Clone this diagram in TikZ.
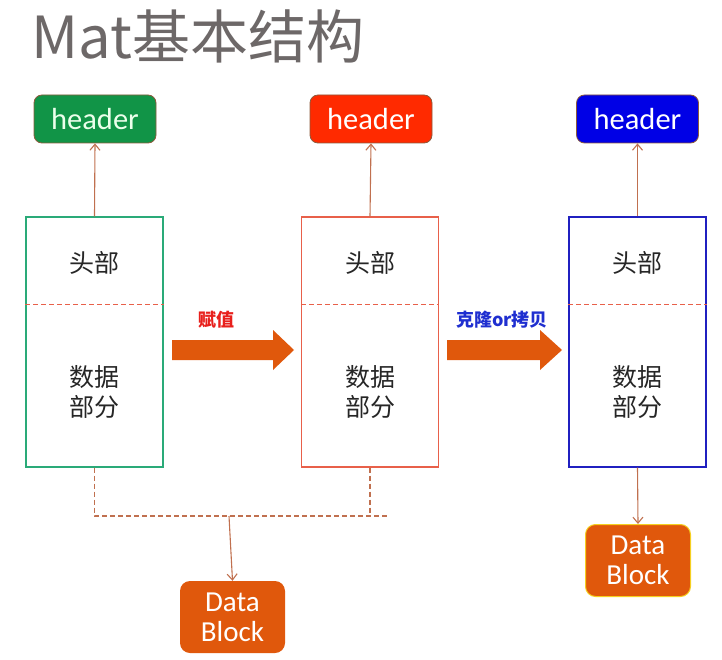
\documentclass[tikz,border=0pt]{standalone}
\usepackage{fontspec}
\setmainfont{Carlito}
\newfontfamily\cjk{Noto Sans CJK SC}
\usetikzlibrary{arrows.meta}
\definecolor{titlegray}{HTML}{6D6868}
\definecolor{hgreen}{HTML}{119447}
\definecolor{hred}{HTML}{FF2A00}
\definecolor{hblue}{HTML}{0000E6}
\definecolor{bgreen}{HTML}{2AAA78}
\definecolor{bred}{HTML}{E8604A}
\definecolor{bblue}{HTML}{2020C0}
\definecolor{conn}{HTML}{C0704F}
\definecolor{orng}{HTML}{E0580C}
\definecolor{lblred}{HTML}{E8201C}
\definecolor{lblblue}{HTML}{1F2FD0}
\definecolor{hborder}{HTML}{8B5A3C}
\definecolor{ylw}{HTML}{F5D020}
\tikzset{
  hdr/.style={rounded corners=8pt, minimum width=122pt, minimum height=48pt, inner sep=0pt,
    draw=hborder, line width=0.8pt, font=\fontsize{30.5}{32}\selectfont},
  matbox/.style={draw, line width=1.1pt, minimum width=137pt, minimum height=250pt, inner sep=0pt},
  cjktext/.style={font=\cjk\fontsize{25}{30}\selectfont, text=black!85, align=center},
  sep/.style={draw=bred, dash pattern=on 5pt off 3pt, line width=1pt},
  conn/.style={draw=conn, line width=1.1pt, -{Straight Barb[length=6pt,width=10pt]}},
  dline/.style={draw=conn, dash pattern=on 5pt off 3pt, line width=1.1pt},
  datablk/.style={rounded corners=10pt, fill=orng, minimum width=105pt, minimum height=72pt,
    inner sep=0pt, text=white, align=center, font=\fontsize{29}{30}\selectfont},
  fat/.style={fill=orng},
  lbl/.style={font=\cjk\bfseries\fontsize{18}{20}\selectfont}
}
\begin{document}
\begin{tikzpicture}[x=1pt,y=-1pt]
\useasboundingbox (0,0) rectangle (722,660);
% title
\node[anchor=base west, inner sep=0pt, text=titlegray, font=\cjk\fontsize{58}{60}\selectfont] (title) at (31,59) {Mat基本结构};
% headers
\node[hdr, fill=hgreen, text=green!8!white] (h1) at (95,119) {header};
\node[hdr, fill=hred, text=white] (h2) at (371,119) {header};
\node[hdr, fill=hblue, text=white] (h3) at (637.5,119) {header};
% mat boxes
\node[matbox, draw=bgreen] (m1) at (94.5,342) {};
\node[matbox, draw=bred] (m2) at (370,342) {};
\node[matbox, draw=bblue] (m3) at (637.5,342) {};
% separators
\draw[sep] (m1.west |- 0,304) -- (m1.east |- 0,304);
\draw[sep] (m2.west |- 0,304) -- (m2.east |- 0,304);
\draw[sep] (m3.west |- 0,304) -- (m3.east |- 0,304);
% texts
\node[cjktext] (t1a) at (94.5,263) {头部};
\node[cjktext] (t1b) at (94.5,392) {数据\\部分};
\node[cjktext] (t2a) at (370,263) {头部};
\node[cjktext] (t2b) at (370,392) {数据\\部分};
\node[cjktext] (t3a) at (637.5,263) {头部};
\node[cjktext] (t3b) at (637.5,392) {数据\\部分};
% header connectors
\draw[conn] (m1.north) -- (h1.south);
\draw[conn] (m2.north) -- (h2.south);
\draw[conn] (m3.north) -- (h3.south);
% fat arrows
\fill[fat] (172,340) -- (273,340) -- (273,330) -- (294,350) -- (273,370) -- (273,360) -- (172,360) -- cycle;
\fill[fat] (447,340) -- (540,340) -- (540,330) -- (562,350) -- (540,370) -- (540,360) -- (447,360) -- cycle;
\node[lbl, text=lblred] (l1) at (216,320) {赋值};
\node[lbl, text=lblblue] (l2) at (502,320) {克隆or拷贝};
% data blocks
\node[datablk] (db1) at (232.5,617) {Data\\Block};
\node[datablk, draw=ylw, line width=1pt] (db2) at (638,560.5) {Data\\Block};
% shared data connectors
\coordinate (jl) at (m1.south |- 0,516);
\coordinate (jr) at (390,516);
\coordinate (jm) at (229,516);
\draw[dline] (m1.south) -- (jl) -- (jr);
\draw[dline] (m2.south) -- (m2.south |- jl);
\draw[conn] (jm) -- (db1.north);
\draw[conn] (m3.south) -- (db2.north);
\end{tikzpicture}
\end{document}
